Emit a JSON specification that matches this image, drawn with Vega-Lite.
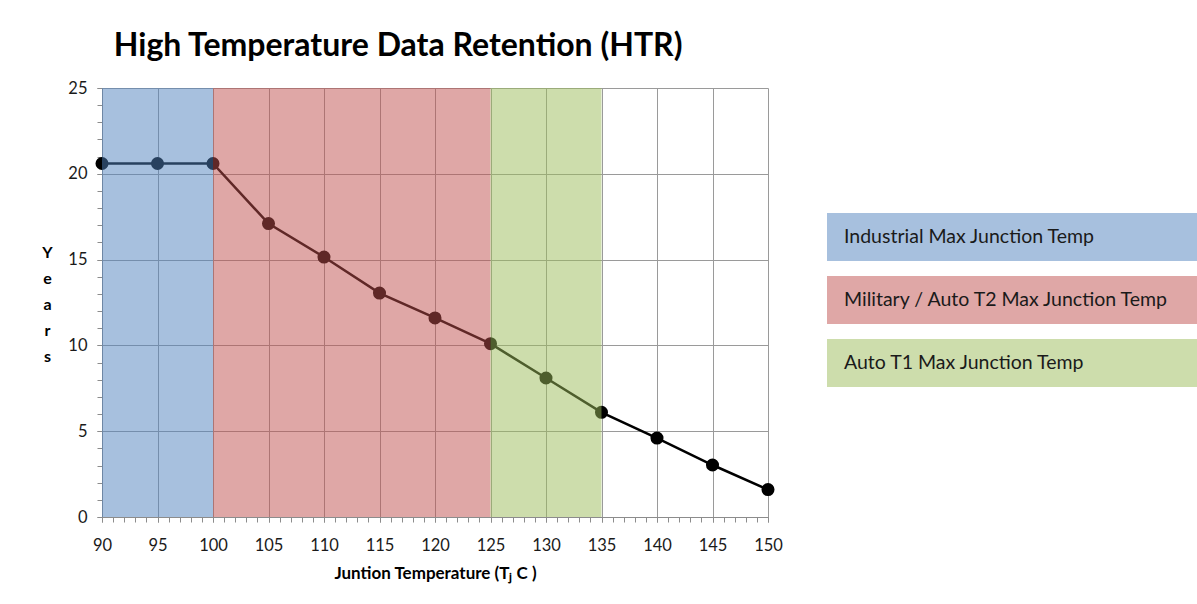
{
  "$schema": "https://vega.github.io/schema/vega-lite/v6.json",
  "background": "white",
  "padding": {"left": 41, "top": 30, "right": 0, "bottom": 10},
  "config": {"view": {"stroke": null}, "font": "Lato"},
  "title": {"text": "High Temperature Data Retention (HTR)", "fontSize": 32, "font": "Lato", "fontWeight": "bold", "color": "#000000", "anchor": "start", "dx": 72, "offset": 17},
  "datasets": {
    "pts": [
      {"temp": 90, "years": 20.6}, {"temp": 95, "years": 20.6}, {"temp": 100, "years": 20.6},
      {"temp": 105, "years": 17.1}, {"temp": 110, "years": 15.15}, {"temp": 115, "years": 13.05},
      {"temp": 120, "years": 11.6}, {"temp": 125, "years": 10.1}, {"temp": 130, "years": 8.1},
      {"temp": 135, "years": 6.1}, {"temp": 140, "years": 4.6}, {"temp": 145, "years": 3.03},
      {"temp": 150, "years": 1.6}
    ],
    "zones": [
      {"zone": "Industrial Max Junction Temp", "start": 90, "end": 100},
      {"zone": "Military / Auto T2 Max Junction Temp", "start": 100, "end": 125},
      {"zone": "Auto T1 Max Junction Temp", "start": 125, "end": 135}
    ]
  },
  "hconcat": [
    {
      "width": 666,
      "height": 429,
      "resolve": {"axis": {"x": "independent", "y": "independent"}},
      "layer": [
        {
          "data": {"name": "pts"},
          "mark": {"type": "line", "color": "#000000", "strokeWidth": 2.5},
          "encoding": {
            "x": {"field": "temp", "type": "quantitative", "scale": {"domain": [90, 150], "nice": false, "zero": false},
              "axis": {
                "orient": "bottom",
                "values": [90, 95, 100, 105, 110, 115, 120, 125, 130, 135, 140, 145, 150],
                "gridColor": "#9a9a9a", "gridWidth": 1, "grid": true,
                "domainColor": "#8c8c8c", "tickColor": "#8c8c8c", "tickSize": 5,
                "labelFontSize": 16.5, "labelColor": "#1a1a1a", "labelFont": "Lato", "labelPadding": 15, "labelFlush": false, "labelOverlap": false,
                "title": "Juntion Temperature (T\u2c7c C )", "titleFontSize": 17, "titleFont": "Lato", "titleFontWeight": "bold", "titleColor": "#000000", "titlePadding": 12
              }},
            "y": {"field": "years", "type": "quantitative", "scale": {"domain": [0, 25], "nice": false},
              "axis": {
                "orient": "left",
                "values": [0, 5, 10, 15, 20, 25],
                "gridColor": "#9a9a9a", "gridWidth": 1, "grid": true,
                "domainColor": "#8c8c8c", "tickColor": "#8c8c8c", "tickSize": 5,
                "labelFontSize": 16.5, "labelColor": "#1a1a1a", "labelFont": "Lato", "labelPadding": 10, "labelOverlap": false,
                "title": ["Y", "e", "a", "r", "s"], "titleAngle": 0, "titleAlign": "center", "titleBaseline": "middle",
                "titleX": -55, "titleY": 164, "titleLineHeight": 26,
                "titleFontSize": 16, "titleFont": "Lato", "titleFontWeight": "bold", "titleColor": "#000000"
              }}
          }
        },
        {
          "data": {"name": "pts"},
          "mark": {"type": "circle", "color": "#000000", "opacity": 1, "size": 170},
          "encoding": {
            "x": {"field": "temp", "type": "quantitative",
              "axis": {"orient": "bottom", "values": [90,91,92,93,94,95,96,97,98,99,100,101,102,103,104,105,106,107,108,109,110,111,112,113,114,115,116,117,118,119,120,121,122,123,124,125,126,127,128,129,130,131,132,133,134,135,136,137,138,139,140,141,142,143,144,145,146,147,148,149,150],
                "labels": false, "grid": false, "domain": false, "title": null, "tickColor": "#8c8c8c", "tickSize": 5}},
            "y": {"field": "years", "type": "quantitative",
              "axis": {"orient": "left", "values": [0,1,2,3,4,5,6,7,8,9,10,11,12,13,14,15,16,17,18,19,20,21,22,23,24,25],
                "labels": false, "grid": false, "domain": false, "title": null, "tickColor": "#8c8c8c", "tickSize": 5}}
          }
        },
        {
          "data": {"name": "zones"},
          "mark": {"type": "rect", "opacity": 0.5},
          "encoding": {
            "x": {"field": "start", "type": "quantitative", "axis": null},
            "x2": {"field": "end"},
            "y": {"datum": 0, "type": "quantitative", "axis": null},
            "y2": {"datum": 25},
            "color": {"field": "zone", "type": "nominal",
              "scale": {"domain": ["Industrial Max Junction Temp", "Military / Auto T2 Max Junction Temp", "Auto T1 Max Junction Temp"], "range": ["#4f81bd", "#c0504d", "#9bbb59"]},
              "legend": null}
          }
        }
      ]
    },
    {
      "width": 371,
      "height": 429,
      "data": {"name": "zones"},
      "encoding": {
        "y": {"field": "zone", "type": "nominal", "axis": null,
          "scale": {"domain": ["Industrial Max Junction Temp", "Military / Auto T2 Max Junction Temp", "Auto T1 Max Junction Temp"], "range": [125, 299], "paddingInner": 0.24, "paddingOuter": 0}}
      },
      "layer": [
        {
          "mark": {"type": "bar", "opacity": 0.5},
          "encoding": {
            "color": {"field": "zone", "type": "nominal",
              "scale": {"domain": ["Industrial Max Junction Temp", "Military / Auto T2 Max Junction Temp", "Auto T1 Max Junction Temp"], "range": ["#4f81bd", "#c0504d", "#9bbb59"]},
              "legend": null}
          }
        },
        {
          "mark": {"type": "text", "align": "left", "baseline": "middle", "dx": 17, "fontSize": 19.5, "font": "Lato", "color": "#1a1a1a"},
          "encoding": {
            "x": {"value": 0},
            "text": {"field": "zone"}
          }
        }
      ]
    }
  ],
  "spacing": 59,
  "bounds": "flush"
}
